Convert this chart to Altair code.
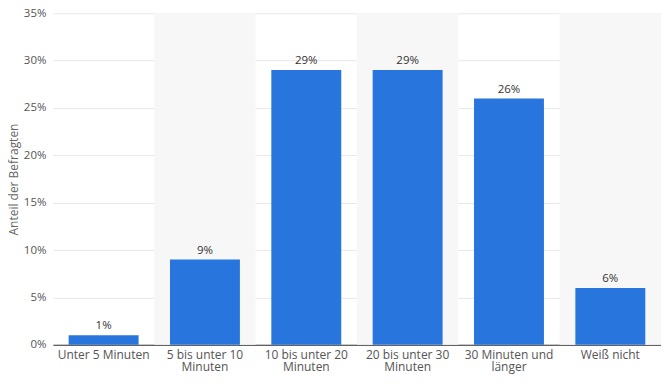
import altair as alt
import pandas as pd

categories = ["Unter 5 Minuten", "5 bis unter 10 Minuten", "10 bis unter 20 Minuten",
              "20 bis unter 30 Minuten", "30 Minuten und länger", "Weiß nicht"]
label_lines = ["Unter 5 Minuten", "5 bis unter 10|Minuten", "10 bis unter 20|Minuten",
               "20 bis unter 30|Minuten", "30 Minuten und|länger", "Weiß nicht"]
values = [1, 9, 29, 29, 26, 6]
shaded = [False, True, False, True, False, True]

df = pd.DataFrame({"cat": categories, "lab": label_lines, "val": values, "shade": shaded})

pad_inner = 0.31
xscale = alt.Scale(domain=categories, paddingInner=pad_inner, paddingOuter=pad_inner / 2)
label_map = "{" + ",".join(f"'{c}':'{l}'" for c, l in zip(categories, label_lines)) + "}"

x = alt.X("cat:N", scale=xscale, sort=categories, title=None,
          axis=alt.Axis(labelAngle=0, labelExpr=f"split({label_map}[datum.label], '|')",
                        labelFont="Open Sans", labelFontSize=12, labelColor="#555",
                        labelPadding=5, ticks=False, domainColor="#333", domainWidth=1,
                        labelLineHeight=12, labelOverlap=False, labelBound=False))

yscale = alt.Scale(domain=[0, 35])

band = alt.Chart(df).transform_filter("datum.shade").mark_bar(
    color="#f7f7f7", width=alt.RelativeBandSize(1 / (1 - pad_inner))
).encode(x=x, y=alt.value(0), y2=alt.value(332))

bars = alt.Chart(df).mark_bar(color="#2876dd", width=alt.RelativeBandSize(1)).encode(
    x=x,
    y=alt.Y("val:Q", scale=yscale, title="Anteil der Befragten",
            axis=alt.Axis(values=[0, 5, 10, 15, 20, 25, 30, 35], labelExpr="datum.value + '%'",
                          labelFont="Open Sans", labelFontSize=11.5, labelColor="#555",
                          ticks=False, domain=False, gridColor="#e8e8e8", labelPadding=7,
                          titleFont="Open Sans", titleFontSize=12, titleColor="#666",
                          titleFontWeight="normal", titlePadding=3)),
)

text = alt.Chart(df).mark_text(dy=-9, font="Open Sans", fontSize=11.5, color="#333").encode(
    x=x, y=alt.Y("val:Q", scale=yscale), text=alt.Text("lbl:N")
).transform_calculate(lbl="datum.val + '%'")

chart = alt.layer(band, bars, text).properties(
    width=609, height=332,
    autosize=alt.AutoSizeParams(type="none"),
    padding={"left": 45, "top": 5, "right": 0, "bottom": 30},
).configure_view(stroke=None).configure_axis(grid=True)
chart = chart.configure_axisX(grid=False)

chart.save("out.html", embed_options={"renderer": "svg", "actions": False})
